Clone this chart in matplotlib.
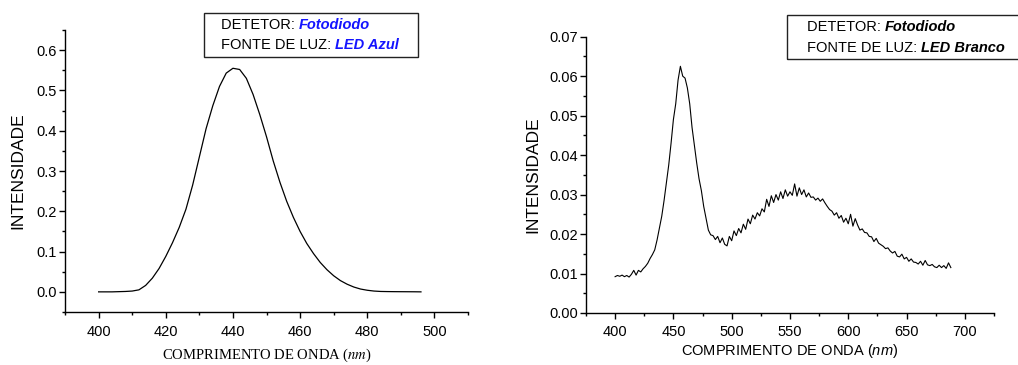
import matplotlib
matplotlib.use("Agg")
import matplotlib.pyplot as plt
from matplotlib.patches import Rectangle
from matplotlib.ticker import MultipleLocator, FormatStrFormatter

plt.rcParams["font.family"] = ["Liberation Sans", "DejaVu Sans"]
plt.rcParams["mathtext.fontset"] = "custom"
plt.rcParams["mathtext.rm"] = "Liberation Sans"
plt.rcParams["mathtext.it"] = "Liberation Sans:italic"

# ---------------------------------------------------------------------------
# Data
# ---------------------------------------------------------------------------

# Left panel: photodiode, blue LED
blue_wl = [400, 402, 404, 406, 408, 410, 412, 414, 416, 418, 420, 422, 424,
           426, 428, 430, 432, 434, 436, 438, 440, 442, 444, 446, 448, 450,
           452, 454, 456, 458, 460, 462, 464, 466, 468, 470, 472, 474, 476,
           478, 480, 482, 484, 486, 488, 490, 492, 494, 496]
blue_int = [0.0, 0.0, 0.0, 0.0005, 0.001, 0.002, 0.005, 0.016, 0.034, 0.058,
            0.088, 0.122, 0.160, 0.205, 0.265, 0.335, 0.405, 0.462, 0.51,
            0.543, 0.555, 0.552, 0.53, 0.49, 0.44, 0.385, 0.325, 0.272,
            0.225, 0.185, 0.15, 0.12, 0.095, 0.073, 0.055, 0.04, 0.028,
            0.019, 0.012, 0.007, 0.004, 0.002, 0.001, 0.0007, 0.0005,
            0.0004, 0.0003, 0.0002, 0.0]

# Right panel: photodiode, white LED (2 nm steps from 400 to 688)
white_wl = list(range(400, 689, 2))
white_int = [
    0.0092, 0.0095, 0.0093, 0.0096, 0.0092, 0.0095, 0.0091, 0.0098, 0.0108,
    0.0096, 0.0108, 0.0104, 0.0112, 0.0118, 0.0126, 0.0138, 0.0148, 0.0160,
    0.0185, 0.0215, 0.0245, 0.0285, 0.0330, 0.0375, 0.0430, 0.0490, 0.0530,
    0.0590, 0.0625, 0.0600, 0.0595, 0.0570, 0.0530, 0.0470, 0.0425, 0.0380,
    0.0340, 0.0310, 0.0270, 0.0240, 0.0210, 0.0198, 0.0196, 0.0186, 0.0194,
    0.0178, 0.0190, 0.0174, 0.0170, 0.0194, 0.0183, 0.0208, 0.0196, 0.0214,
    0.0203, 0.0225, 0.0212, 0.0238, 0.0226, 0.0248, 0.0238, 0.0254, 0.0246,
    0.0264, 0.0256, 0.0288, 0.0270, 0.0297, 0.0280, 0.0300, 0.0286, 0.0307,
    0.0290, 0.0312, 0.0296, 0.0307, 0.0298, 0.0327, 0.0296, 0.0317, 0.0300,
    0.0312, 0.0294, 0.0304, 0.0293, 0.0294, 0.0286, 0.0291, 0.0283, 0.0289,
    0.0279, 0.0270, 0.0262, 0.0258, 0.0248, 0.0254, 0.0240, 0.0247, 0.0230,
    0.0240, 0.0226, 0.0250, 0.0220, 0.0239, 0.0223, 0.0210, 0.0213, 0.0204,
    0.0203, 0.0194, 0.0193, 0.0181, 0.0189, 0.0177, 0.0173, 0.0169, 0.0163,
    0.0165, 0.0157, 0.0152, 0.0156, 0.0144, 0.0142, 0.0149, 0.0137, 0.0141,
    0.0131, 0.0137, 0.0129, 0.0128, 0.0124, 0.0131, 0.0121, 0.0133, 0.0122,
    0.0120, 0.0123, 0.0117, 0.0115, 0.0121, 0.0115, 0.0120, 0.0113, 0.0127,
    0.0115,
]

_BLUE = "#1414ff"
_FS = 10.5


def _style_axes(ax, xmaj, xmin, ymaj, ymin, yfmt):
    for side in ("top", "right"):
        ax.spines[side].set_visible(False)
    for side in ("left", "bottom"):
        ax.spines[side].set_linewidth(1.0)
    ax.xaxis.set_major_locator(MultipleLocator(xmaj))
    ax.xaxis.set_minor_locator(MultipleLocator(xmin))
    ax.yaxis.set_major_locator(MultipleLocator(ymaj))
    ax.yaxis.set_minor_locator(MultipleLocator(ymin))
    ax.yaxis.set_major_formatter(FormatStrFormatter(yfmt))
    ax.tick_params(which="major", direction="out", length=4, width=1,
                   labelsize=_FS)
    ax.tick_params(axis="x", which="major", pad=5)
    ax.tick_params(axis="y", which="major", pad=2)
    ax.tick_params(which="minor", direction="out", length=2.5, width=1)


def _legend_box(fig, x0, y0, x1, y1, tx, ty1, ty2, source, color):
    """Box with two lines of mixed-style text (pixel coords from top-left)."""
    W, H = 1018.0, 365.0
    fig.patches.append(Rectangle((x0 / W, 1 - y1 / H), (x1 - x0) / W,
                                 (y1 - y0) / H, transform=fig.transFigure,
                                 fill=False, edgecolor="#222222",
                                 linewidth=1.0, figure=fig))
    rows = [(ty1, "DETETOR: ", "Fotodiodo"), (ty2, "FONTE DE LUZ: ", source)]
    for ty, plain, styled in rows:
        t = fig.text(tx / W, 1 - ty / H, plain, fontsize=_FS,
                     va="center", ha="left")
        fig.canvas.draw()
        ext = t.get_window_extent()
        fig.text(ext.x1 / fig.dpi / fig.get_figwidth(), 1 - ty / H, styled,
                 fontsize=_FS, va="center", ha="left", color=color,
                 fontweight="bold", fontstyle="italic")


fig = plt.figure(figsize=(10.18, 3.65), dpi=100)

# Left: blue LED
ax1 = fig.add_axes([0.0639, 0.1452, 0.3958, 0.7726])
ax1.plot(blue_wl, blue_int, color="black", linewidth=0.9)
ax1.set_xlim(390, 510)
ax1.set_ylim(-0.05, 0.65)
_style_axes(ax1, 20, 10, 0.1, 0.05, "%.1f")
ax1.set_ylabel("INTENSIDADE", fontsize=12.5, labelpad=8)
ax1.set_xlabel("COMPRIMENTO DE ONDA ($\\mathit{nm}$)", fontsize=_FS,
               family=["Liberation Serif", "DejaVu Serif"],
               math_fontfamily="stix", labelpad=6)

# Right: white LED
ax2 = fig.add_axes([0.5756, 0.1425, 0.4008, 0.7570])
ax2.plot(white_wl, white_int, color="black", linewidth=0.8)
ax2.set_xlim(375, 725)
ax2.set_ylim(0, 0.07)
_style_axes(ax2, 50, 25, 0.01, 0.005, "%.2f")
ax2.set_ylabel("INTENSIDADE", fontsize=12.5, labelpad=6)
ax2.set_xlabel("COMPRIMENTO DE ONDA ($\\mathit{nm}$)", fontsize=_FS,
               labelpad=2)

_legend_box(fig, 204, 13, 418, 57, 221, 25, 45, "LED Azul", _BLUE)
_legend_box(fig, 787, 15, 1060, 59, 807, 27, 48, "LED Branco", "black")

fig.savefig("out.png", dpi=100)
plt.close(fig)
